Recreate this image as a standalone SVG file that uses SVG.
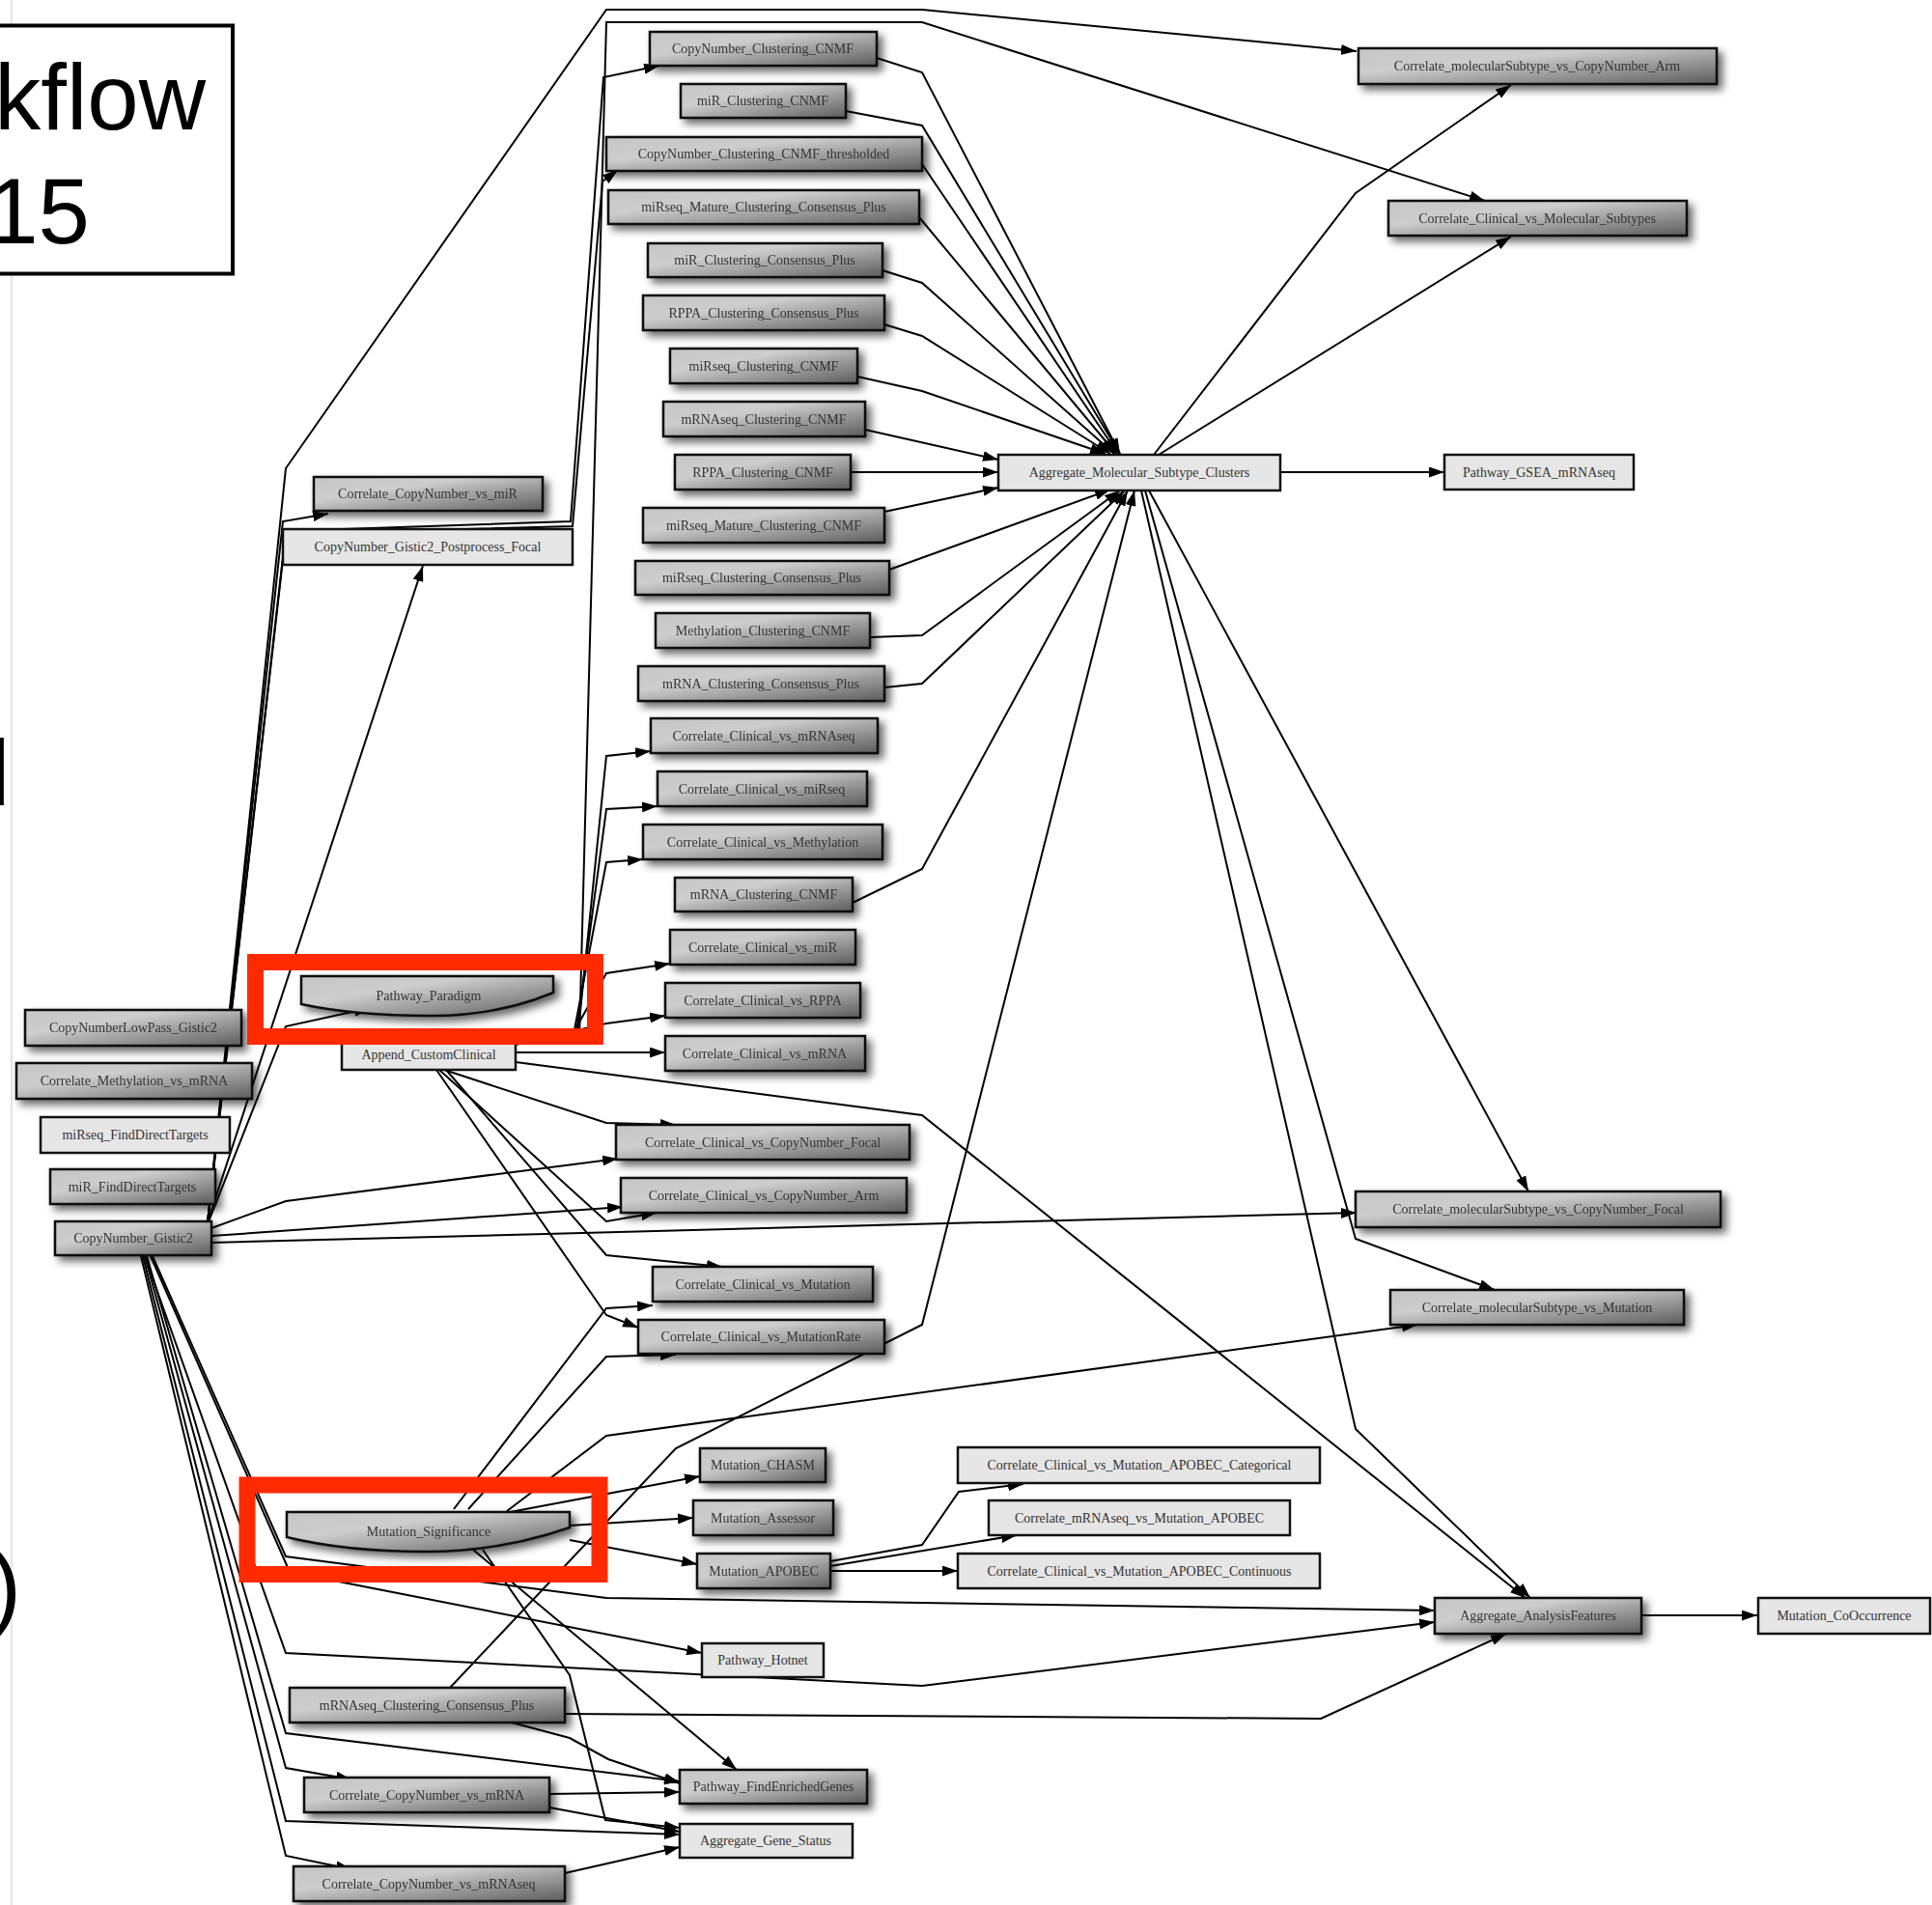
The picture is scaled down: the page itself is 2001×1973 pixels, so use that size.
<svg xmlns="http://www.w3.org/2000/svg" width="2001" height="1973" viewBox="0 0 2001 1973">
  <defs>
    <linearGradient id="shade" x1="0" y1="0" x2="1" y2="1">
      <stop offset="0" stop-color="#c6c6c6"/>
      <stop offset="0.35" stop-color="#cdcdcd"/>
      <stop offset="1" stop-color="#5c5c5c"/>
    </linearGradient>
    <filter id="drop" x="-10%" y="-40%" width="125%" height="200%">
      <feGaussianBlur in="SourceAlpha" stdDeviation="4"/>
      <feOffset dx="5" dy="5" result="b"/>
      <feComponentTransfer><feFuncA type="linear" slope="0.6"/></feComponentTransfer>
      <feMerge><feMergeNode/><feMergeNode in="SourceGraphic"/></feMerge>
    </filter>
    <marker id="arr" markerUnits="userSpaceOnUse" markerWidth="17" markerHeight="11" refX="16" refY="5.5" orient="auto">
      <path d="M0,0 L16,5.5 L0,11 Z" fill="#000"/>
    </marker>
    <style>
      .dk rect, .dk path { fill: url(#shade); stroke: #111; stroke-width: 2.5; }
      .dk { filter: url(#drop); }
      .lt rect { fill: #e6e6e6; stroke: #111; stroke-width: 2.5; }
      .nt { font-family: "Liberation Serif", "Times New Roman", serif; font-size: 14px; fill: #333; text-anchor: middle; }
      .e polyline { fill: none; stroke: #000; stroke-width: 2; marker-end: url(#arr); }
      .hl { fill: none; stroke: #ff2a00; stroke-width: 17; }
      .title { font-family: "Liberation Sans", Arial, sans-serif; font-size: 96px; fill: #000; }
    </style>
  </defs>

  <rect x="0" y="0" width="2001" height="1973" fill="#fff"/>
  <!-- slide margin rule -->
  <line x1="12" y1="0" x2="12" y2="1973" stroke="#e4e4e4" stroke-width="2"/>

  <!-- title box and slide text, cut by the left edge -->
  <g id="title">
    <rect x="-20" y="26.5" width="261" height="257" fill="#fff" stroke="#000" stroke-width="4"/>
    <text class="title" x="213" y="134" text-anchor="end">kflow</text>
    <text class="title" x="93" y="252" text-anchor="end">15</text>
    <text class="title" x="-11" y="834" font-size="90">l</text>
    <text class="title" x="22" y="1676" text-anchor="end" font-size="68">)</text>
  </g>

  <!-- connectors -->
  <g id="edges" class="e">
    <!-- from CopyNumber_Gistic2 -->
    <polyline points="215,1266 296,485 628,10 955,10 1405,53"/>
    <polyline points="215,1266 293,540 340,532"/>
    <polyline points="215,1266 438,586"/>
    <polyline points="215,1266 296,550 591,540 625,80 683,68"/>
    <polyline points="215,1266 296,553 593,545 624,188 640,176"/>
    <polyline points="215,1268 296,1063 383,1044"/>
    <polyline points="219,1272 296,1244 640,1200"/>
    <polyline points="219,1280 645,1250"/>
    <polyline points="219,1287 1405,1256"/>
    <polyline points="150,1301 296,1831 364,1843"/>
    <polyline points="146,1301 296,1922 364,1936"/>
    <polyline points="152,1301 296,1795 704,1845"/>
    <polyline points="148,1301 296,1886 704,1900"/>
    <polyline points="156,1301 300,1628 727,1712"/>
    <polyline points="158,1301 296,1612 628,1655 1486,1668"/>
    <polyline points="150,1301 296,1712 955,1746 1486,1680"/>

    <!-- from Mutation_Significance -->
    <polyline points="523,1567 725,1529"/>
    <polyline points="590,1580 718,1572"/>
    <polyline points="590,1595 722,1620"/>
    <polyline points="490,1605 763,1833"/>
    <polyline points="500,1605 590,1735 627,1885 704,1893"/>
    <polyline points="470,1563 628,1355 676,1352"/>
    <polyline points="485,1563 628,1405 700,1403"/>
    <polyline points="525,1565 628,1487 1468,1372"/>

    <!-- from Append_CustomClinical -->
    <polyline points="534,1090 689,1090"/>
    <polyline points="534,1082 628,1060 689,1052"/>
    <polyline points="590,1077 628,1008 694,998"/>
    <polyline points="593,1077 628,893 666,890"/>
    <polyline points="596,1077 628,838 681,835"/>
    <polyline points="598,1077 628,783 674,778"/>
    <polyline points="600,1077 628,23 955,23 1538,208"/>
    <polyline points="460,1108 628,1163 700,1165"/>
    <polyline points="455,1108 628,1265 680,1256"/>
    <polyline points="462,1108 628,1300 748,1312"/>
    <polyline points="452,1108 628,1362 661,1375"/>
    <polyline points="534,1100 955,1155 1580,1655"/>

    <!-- clustering results into Aggregate_Molecular_Subtype_Clusters -->
    <polyline points="908,60 955,75 1160,470"/>
    <polyline points="876,115 955,130 1160,470"/>
    <polyline points="955,170 1158,470"/>
    <polyline points="952,225 1156,470"/>
    <polyline points="914,280 955,293 1154,470"/>
    <polyline points="916,336 955,348 1150,470"/>
    <polyline points="888,390 955,405 1145,470"/>
    <polyline points="896,445 1034,476"/>
    <polyline points="881,489 1034,489"/>
    <polyline points="916,530 1034,505"/>
    <polyline points="921,590 1150,507"/>
    <polyline points="901,660 955,658 1160,508"/>
    <polyline points="916,712 955,708 1165,508"/>
    <polyline points="883,935 955,900 1168,508"/>
    <polyline points="466,1748 700,1500 955,1372 1175,508"/>

    <!-- from Aggregate_Molecular_Subtype_Clusters -->
    <polyline points="1195,471 1404,200 1565,88"/>
    <polyline points="1200,471 1565,245"/>
    <polyline points="1326,489 1496,489"/>
    <polyline points="1190,508 1583,1234"/>
    <polyline points="1186,508 1404,1283 1548,1336"/>
    <polyline points="1182,508 1404,1480 1585,1655"/>

    <!-- from Mutation_APOBEC -->
    <polyline points="860,1617 955,1600 993,1545 1060,1537"/>
    <polyline points="860,1622 1053,1590"/>
    <polyline points="860,1627 992,1627"/>

    <!-- remaining -->
    <polyline points="1700,1673 1820,1673"/>
    <polyline points="585,1775 1368,1780 1560,1692"/>
    <polyline points="530,1784 590,1800 630,1822 704,1847"/>
    <polyline points="569,1858 704,1856"/>
    <polyline points="569,1872 704,1897"/>
    <polyline points="585,1940 704,1913"/>
  </g>

  <!-- nodes -->
  <g id="n_cn_cnmf" class="dk"><rect x="673" y="33" width="235" height="35"/><text class="nt" x="790" y="55">CopyNumber_Clustering_CNMF</text></g>
  <g id="n_mir_cnmf" class="dk"><rect x="705" y="87" width="171" height="35"/><text class="nt" x="790" y="109">miR_Clustering_CNMF</text></g>
  <g id="n_cn_cnmf_thr" class="dk"><rect x="628" y="142" width="327" height="35"/><text class="nt" x="791" y="164">CopyNumber_Clustering_CNMF_thresholded</text></g>
  <g id="n_mirseq_mature_ccp" class="dk"><rect x="630" y="197" width="322" height="35"/><text class="nt" x="791" y="219">miRseq_Mature_Clustering_Consensus_Plus</text></g>
  <g id="n_mir_ccp" class="dk"><rect x="671" y="252" width="243" height="35"/><text class="nt" x="792" y="274">miR_Clustering_Consensus_Plus</text></g>
  <g id="n_rppa_ccp" class="dk"><rect x="666" y="306" width="250" height="36"/><text class="nt" x="791" y="329">RPPA_Clustering_Consensus_Plus</text></g>
  <g id="n_mirseq_cnmf" class="dk"><rect x="694" y="361" width="194" height="36"/><text class="nt" x="791" y="384">miRseq_Clustering_CNMF</text></g>
  <g id="n_mrnaseq_cnmf" class="dk"><rect x="687" y="416" width="209" height="36"/><text class="nt" x="791" y="439">mRNAseq_Clustering_CNMF</text></g>
  <g id="n_rppa_cnmf" class="dk"><rect x="699" y="471" width="182" height="36"/><text class="nt" x="790" y="494">RPPA_Clustering_CNMF</text></g>
  <g id="n_mirseq_mature_cnmf" class="dk"><rect x="666" y="526" width="250" height="36"/><text class="nt" x="791" y="549">miRseq_Mature_Clustering_CNMF</text></g>
  <g id="n_mirseq_ccp" class="dk"><rect x="658" y="581" width="263" height="35"/><text class="nt" x="789" y="603">miRseq_Clustering_Consensus_Plus</text></g>
  <g id="n_meth_cnmf" class="dk"><rect x="679" y="635" width="222" height="36"/><text class="nt" x="790" y="658">Methylation_Clustering_CNMF</text></g>
  <g id="n_mrna_ccp" class="dk"><rect x="661" y="690" width="255" height="36"/><text class="nt" x="788" y="713">mRNA_Clustering_Consensus_Plus</text></g>
  <g id="n_cc_mrnaseq" class="dk"><rect x="674" y="744" width="235" height="36"/><text class="nt" x="791" y="767">Correlate_Clinical_vs_mRNAseq</text></g>
  <g id="n_cc_mirseq" class="dk"><rect x="681" y="799" width="217" height="36"/><text class="nt" x="789" y="822">Correlate_Clinical_vs_miRseq</text></g>
  <g id="n_cc_meth" class="dk"><rect x="666" y="854" width="248" height="36"/><text class="nt" x="790" y="877">Correlate_Clinical_vs_Methylation</text></g>
  <g id="n_mrna_cnmf" class="dk"><rect x="699" y="909" width="184" height="35"/><text class="nt" x="791" y="931">mRNA_Clustering_CNMF</text></g>
  <g id="n_cc_mir" class="dk"><rect x="694" y="963" width="192" height="36"/><text class="nt" x="790" y="986">Correlate_Clinical_vs_miR</text></g>
  <g id="n_cc_rppa" class="dk"><rect x="689" y="1018" width="202" height="36"/><text class="nt" x="790" y="1041">Correlate_Clinical_vs_RPPA</text></g>
  <g id="n_cc_mrna" class="dk"><rect x="689" y="1073" width="207" height="36"/><text class="nt" x="792" y="1096">Correlate_Clinical_vs_mRNA</text></g>
  <g id="n_cc_cnf" class="dk"><rect x="638" y="1165" width="304" height="36"/><text class="nt" x="790" y="1188">Correlate_Clinical_vs_CopyNumber_Focal</text></g>
  <g id="n_cc_cna" class="dk"><rect x="643" y="1220" width="296" height="36"/><text class="nt" x="791" y="1243">Correlate_Clinical_vs_CopyNumber_Arm</text></g>
  <g id="n_cc_mut" class="dk"><rect x="676" y="1312" width="228" height="36"/><text class="nt" x="790" y="1335">Correlate_Clinical_vs_Mutation</text></g>
  <g id="n_cc_mutrate" class="dk"><rect x="661" y="1367" width="255" height="35"/><text class="nt" x="788" y="1389">Correlate_Clinical_vs_MutationRate</text></g>
  <g id="n_chasm" class="dk"><rect x="725" y="1500" width="130" height="35"/><text class="nt" x="790" y="1522">Mutation_CHASM</text></g>
  <g id="n_assessor" class="dk"><rect x="718" y="1554" width="145" height="36"/><text class="nt" x="790" y="1577">Mutation_Assessor</text></g>
  <g id="n_apobec" class="dk"><rect x="722" y="1609" width="138" height="36"/><text class="nt" x="791" y="1632">Mutation_APOBEC</text></g>
  <g id="n_hotnet" class="lt"><rect x="727" y="1702" width="126" height="35"/><text class="nt" x="790" y="1724">Pathway_Hotnet</text></g>
  <g id="n_pfeg" class="dk"><rect x="704" y="1833" width="194" height="35"/><text class="nt" x="801" y="1855">Pathway_FindEnrichedGenes</text></g>
  <g id="n_ags" class="lt"><rect x="704" y="1889" width="179" height="35"/><text class="nt" x="793" y="1911">Aggregate_Gene_Status</text></g>

  <g id="n_ccn_mir" class="dk"><rect x="325" y="494" width="237" height="35"/><text class="nt" x="443" y="516">Correlate_CopyNumber_vs_miR</text></g>
  <g id="n_gistic_pp" class="lt"><rect x="293" y="548" width="300" height="37"/><text class="nt" x="443" y="571">CopyNumber_Gistic2_Postprocess_Focal</text></g>
  <g id="n_paradigm" class="dk"><path d="M312,1011 H573 V1028 C540,1042 500,1052 445,1052 C390,1052 345,1047 312,1040 Z"/><text class="nt" x="444" y="1036">Pathway_Paradigm</text></g>
  <g id="n_acc" class="lt"><rect x="354" y="1077" width="180" height="31"/><text class="nt" x="444" y="1097">Append_CustomClinical</text></g>
  <g id="n_mutsig" class="dk"><path d="M297,1566 H590 V1582 C550,1596 500,1607 440,1607 C380,1607 330,1600 297,1592 Z"/><text class="nt" x="444" y="1591">Mutation_Significance</text></g>

  <g id="n_lowpass" class="dk"><rect x="26" y="1046" width="224" height="37"/><text class="nt" x="138" y="1069">CopyNumberLowPass_Gistic2</text></g>
  <g id="n_meth_mrna" class="dk"><rect x="17" y="1101" width="244" height="37"/><text class="nt" x="139" y="1124">Correlate_Methylation_vs_mRNA</text></g>
  <g id="n_mirseq_fdt" class="lt"><rect x="42" y="1157" width="196" height="37"/><text class="nt" x="140" y="1180">miRseq_FindDirectTargets</text></g>
  <g id="n_mir_fdt" class="dk"><rect x="52" y="1211" width="171" height="36"/><text class="nt" x="137" y="1234">miR_FindDirectTargets</text></g>
  <g id="n_gistic" class="dk"><rect x="57" y="1265" width="162" height="35"/><text class="nt" x="138" y="1287">CopyNumber_Gistic2</text></g>

  <g id="n_mrnaseq_ccp" class="dk"><rect x="300" y="1748" width="285" height="36"/><text class="nt" x="442" y="1771">mRNAseq_Clustering_Consensus_Plus</text></g>
  <g id="n_ccn_mrna" class="dk"><rect x="315" y="1841" width="254" height="36"/><text class="nt" x="442" y="1864">Correlate_CopyNumber_vs_mRNA</text></g>
  <g id="n_ccn_mrnaseq" class="dk"><rect x="304" y="1933" width="281" height="36"/><text class="nt" x="444" y="1956">Correlate_CopyNumber_vs_mRNAseq</text></g>

  <g id="n_cms_arm" class="dk"><rect x="1407" y="50" width="371" height="37"/><text class="nt" x="1592" y="73">Correlate_molecularSubtype_vs_CopyNumber_Arm</text></g>
  <g id="n_cc_molsub" class="dk"><rect x="1438" y="208" width="309" height="36"/><text class="nt" x="1592" y="231">Correlate_Clinical_vs_Molecular_Subtypes</text></g>
  <g id="n_amsc" class="lt"><rect x="1034" y="471" width="292" height="37"/><text class="nt" x="1180" y="494">Aggregate_Molecular_Subtype_Clusters</text></g>
  <g id="n_gsea" class="lt"><rect x="1496" y="471" width="196" height="36"/><text class="nt" x="1594" y="494">Pathway_GSEA_mRNAseq</text></g>
  <g id="n_cms_focal" class="dk"><rect x="1404" y="1234" width="378" height="37"/><text class="nt" x="1593" y="1257">Correlate_molecularSubtype_vs_CopyNumber_Focal</text></g>
  <g id="n_cms_mut" class="dk"><rect x="1440" y="1336" width="304" height="36"/><text class="nt" x="1592" y="1359">Correlate_molecularSubtype_vs_Mutation</text></g>
  <g id="n_apobec_cat" class="lt"><rect x="992" y="1499" width="375" height="37"/><text class="nt" x="1180" y="1522">Correlate_Clinical_vs_Mutation_APOBEC_Categorical</text></g>
  <g id="n_apobec_mrnaseq" class="lt"><rect x="1024" y="1554" width="312" height="36"/><text class="nt" x="1180" y="1577">Correlate_mRNAseq_vs_Mutation_APOBEC</text></g>
  <g id="n_apobec_cont" class="lt"><rect x="992" y="1609" width="375" height="36"/><text class="nt" x="1180" y="1632">Correlate_Clinical_vs_Mutation_APOBEC_Continuous</text></g>
  <g id="n_aaf" class="dk"><rect x="1486" y="1655" width="214" height="37"/><text class="nt" x="1593" y="1678">Aggregate_AnalysisFeatures</text></g>
  <g id="n_cooc" class="lt"><rect x="1821" y="1655" width="178" height="37"/><text class="nt" x="1910" y="1678">Mutation_CoOccurrence</text></g>

  <!-- emphasis frames -->
  <g id="highlights">
    <rect class="hl" x="264.5" y="996.5" width="352" height="77"/>
    <rect class="hl" x="256" y="1538" width="365" height="92.5"/>
  </g>
</svg>
